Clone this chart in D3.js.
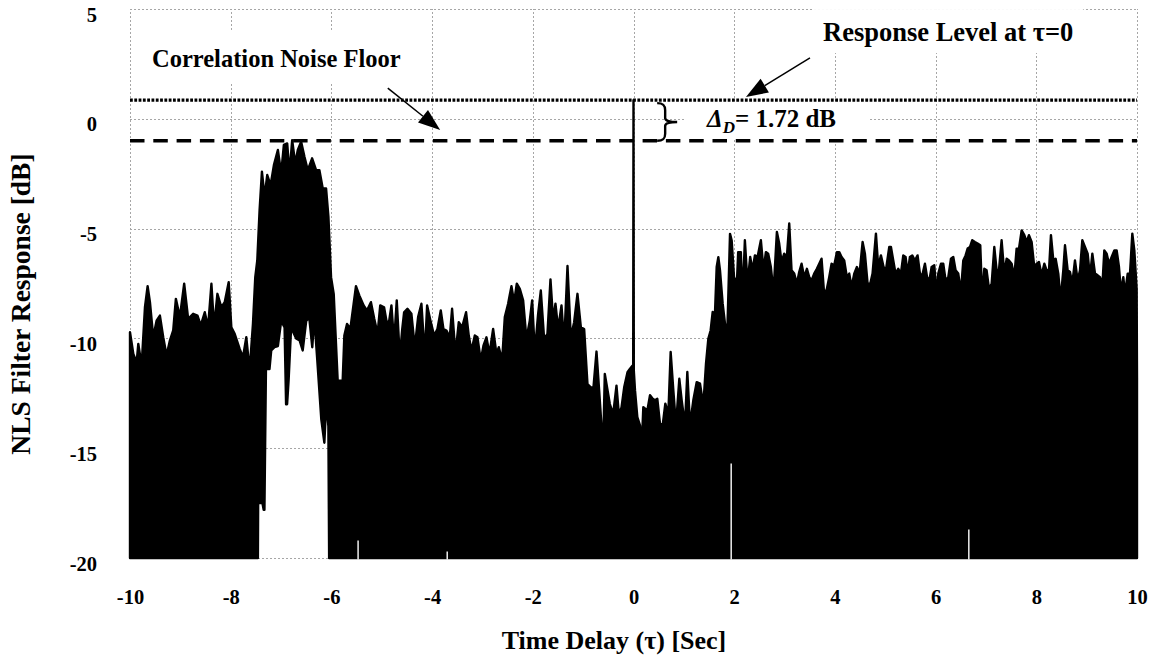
<!DOCTYPE html>
<html>
<head>
<meta charset="utf-8">
<script src="https://cdn.jsdelivr.net/npm/d3@7/dist/d3.min.js"></script>
<style>
  html, body { margin: 0; padding: 0; background: #fff; }
  svg { display: block; }
</style>
</head>
<body>
<script>
// ---------------- DATA ----------------
const xTicks = [-10, -8, -6, -4, -2, 0, 2, 4, 6, 8, 10];
const yTicks = [-20, -15, -10, -5, 0, 5];

const responseLevel = 0.85;   // dotted line, response at tau = 0 (dB)
const noiseFloor = -1.0;      // dashed line, correlation noise floor (dB)
const deltaLabel = "= 1.72 dB";

// Upper envelope of the filter response [time (s), dB]
const peaksA = [[-10.0,-9.72],[-9.934,-10.71],[-9.868,-11.09],[-9.835,-10.25],[-9.769,-11.24],[-9.703,-8.58],[-9.65,-7.62],[-9.604,-8.35],[-9.538,-9.95],[-9.472,-9.19],[-9.406,-8.96],[-9.34,-9.95],[-9.274,-10.78],[-9.208,-10.10],[-9.142,-9.64],[-9.089,-8.20],[-9.01,-9.03],[-8.924,-7.51],[-8.845,-9.11],[-8.746,-8.88],[-8.66,-8.96],[-8.594,-9.41],[-8.515,-8.81],[-8.449,-9.49],[-8.383,-7.51],[-8.33,-9.49],[-8.264,-7.97],[-8.185,-8.58],[-8.119,-8.35],[-8.04,-7.44],[-7.987,-9.49],[-7.921,-9.79],[-7.822,-10.48],[-7.756,-10.86],[-7.69,-9.95],[-7.624,-11.47],[-7.558,-9.34],[-7.512,-7.21],[-7.472,-6.45],[-7.426,-4.16],[-7.38,-2.41],[-7.327,-3.55],[-7.274,-2.56],[-7.208,-3.02],[-7.142,-2.11],[-7.063,-1.42],[-6.997,-2.49],[-6.944,-1.19],[-6.878,-1.12],[-6.832,-2.49],[-6.779,-0.97],[-6.719,-2.03],[-6.667,-1.42],[-6.601,-1.04],[-6.535,-1.73],[-6.469,-2.34],[-6.383,-1.80],[-6.304,-2.34],[-6.238,-2.34],[-6.172,-3.17],[-6.106,-3.17],[-6.059,-4.47],[-6.007,-7.21],[-5.954,-7.97],[-5.875,-11.93],[-5.776,-11.93],[-5.743,-9.87],[-5.69,-9.34],[-5.624,-9.57],[-5.558,-8.42],[-5.512,-7.62],[-5.446,-8.04],[-5.36,-8.50],[-5.294,-8.73],[-5.215,-8.35],[-5.149,-9.11],[-5.083,-9.79],[-5.03,-8.50]];

const peaksB = [[-4.954,-8.58],[-4.907,-9.19],[-4.861,-9.34],[-4.808,-8.50],[-4.755,-10.18],[-4.702,-8.27],[-4.642,-10.86],[-4.596,-9.64],[-4.556,-8.81],[-4.49,-8.65],[-4.411,-8.88],[-4.344,-10.40],[-4.278,-9.03],[-4.212,-8.42],[-4.146,-10.78],[-4.099,-8.50],[-4.026,-9.26],[-3.96,-9.87],[-3.894,-9.57],[-3.828,-8.73],[-3.775,-9.57],[-3.715,-9.64],[-3.649,-9.95],[-3.603,-8.65],[-3.536,-10.71],[-3.47,-9.26],[-3.404,-9.49],[-3.325,-8.81],[-3.272,-9.87],[-3.219,-10.56],[-3.152,-9.87],[-3.099,-9.95],[-3.033,-11.01],[-2.98,-10.33],[-2.921,-9.95],[-2.861,-10.71],[-2.788,-9.57],[-2.722,-10.71],[-2.675,-10.40],[-2.609,-11.01],[-2.556,-9.03],[-2.49,-8.42],[-2.424,-7.62],[-2.371,-8.35],[-2.318,-7.51],[-2.258,-7.74],[-2.192,-8.27],[-2.126,-10.02],[-2.06,-9.19],[-2.013,-8.27],[-1.96,-10.63],[-1.894,-8.88],[-1.841,-7.82],[-1.775,-10.02],[-1.709,-9.79],[-1.649,-7.31],[-1.596,-9.19],[-1.55,-8.42],[-1.497,-9.57],[-1.43,-8.50],[-1.377,-10.25],[-1.311,-6.70],[-1.245,-9.95],[-1.179,-9.26],[-1.113,-7.97],[-1.046,-9.49],[-0.98,-9.57],[-0.914,-12.08],[-0.848,-12.23],[-0.795,-12.23],[-0.735,-10.60],[-0.682,-12.38],[-0.636,-13.98],[-0.603,-15.0],[-0.57,-11.62],[-0.47,-12.99],[-0.404,-13.45],[-0.338,-12.15],[-0.291,-13.45],[-0.238,-13.14],[-0.185,-12.23],[-0.119,-11.54],[-0.073,-11.39],[-0.006,-11.2]];

const zeroLagPeak = [[0, 0.85]];

const peaksC = [[0.006,-11.45],[0.03,-12.37],[0.076,-13.58],[0.129,-13.96],[0.162,-15.02],[0.195,-13.13],[0.275,-13.28],[0.328,-12.59],[0.381,-12.75],[0.427,-12.82],[0.473,-12.75],[0.526,-13.88],[0.579,-13.96],[0.632,-12.97],[0.692,-13.43],[0.738,-10.62],[0.791,-12.37],[0.844,-13.96],[0.91,-11.84],[0.957,-12.82],[1.023,-13.96],[1.069,-11.53],[1.122,-13.96],[1.188,-12.82],[1.255,-11.99],[1.321,-12.06],[1.387,-13.05],[1.44,-11.15],[1.486,-10.02],[1.532,-9.64],[1.572,-8.80],[1.618,-8.88],[1.652,-6.75],[1.685,-6.30],[1.718,-6.90],[1.771,-8.42],[1.817,-9.33],[1.864,-9.64],[1.917,-5.24],[1.95,-5.54],[1.996,-7.2]];

const peaksD = [[2.053,-7.51],[2.079,-6.07],[2.132,-6.07],[2.166,-8.27],[2.212,-5.53],[2.265,-7.51],[2.318,-6.29],[2.364,-6.90],[2.411,-6.22],[2.464,-6.29],[2.53,-5.53],[2.583,-6.90],[2.629,-6.07],[2.675,-6.14],[2.728,-6.75],[2.781,-7.89],[2.848,-5.15],[2.894,-5.68],[2.94,-6.52],[2.993,-6.14],[3.046,-6.29],[3.093,-4.77],[3.139,-6.90],[3.192,-7.05],[3.245,-7.51],[3.291,-6.98],[3.338,-6.60],[3.391,-7.21],[3.444,-6.83],[3.49,-7.21],[3.536,-7.36],[3.589,-7.05],[3.642,-6.83],[3.689,-6.60],[3.735,-6.37],[3.788,-8.04],[3.841,-7.74],[3.887,-7.21],[3.934,-6.60],[3.987,-6.67],[4.04,-6.07],[4.086,-6.07],[4.132,-6.29],[4.185,-6.45],[4.238,-7.21],[4.285,-7.05],[4.331,-7.66],[4.384,-7.05],[4.437,-6.75],[4.49,-7.05],[4.55,-5.61],[4.596,-6.14],[4.649,-7.51],[4.702,-7.51],[4.748,-7.05],[4.815,-5.23],[4.861,-6.75],[4.914,-6.22],[4.967,-6.75],[5.013,-6.90],[5.079,-5.84]];

const peaksE = [[5.113,-5.84],[5.159,-6.45],[5.205,-7.05],[5.258,-6.83],[5.311,-7.05],[5.358,-6.22],[5.404,-6.29],[5.444,-7.05],[5.49,-6.29],[5.536,-6.22],[5.589,-6.45],[5.642,-6.22],[5.689,-7.05],[5.735,-7.13],[5.788,-6.60],[5.841,-7.36],[5.887,-7.21],[5.921,-6.75],[5.974,-6.67],[6.02,-8.04],[6.053,-7.05],[6.106,-6.60],[6.152,-6.60],[6.199,-7.36],[6.252,-7.21],[6.305,-6.37],[6.351,-6.29],[6.397,-6.90],[6.45,-7.05],[6.503,-7.89],[6.55,-6.45],[6.596,-6.22],[6.636,-5.91],[6.682,-5.84],[6.728,-5.53],[6.781,-5.61],[6.834,-5.68],[6.887,-5.76],[6.927,-8.27],[6.967,-6.83],[7.013,-6.90],[7.06,-7.74],[7.113,-7.51],[7.166,-5.84],[7.212,-6.90],[7.258,-6.90],[7.311,-5.53],[7.364,-7.05],[7.411,-6.37],[7.457,-6.45],[7.51,-6.60],[7.563,-7.21],[7.609,-5.91],[7.656,-5.91],[7.709,-5.08],[7.762,-5.30],[7.808,-5.61],[7.854,-5.30],[7.907,-5.61],[7.96,-6.75],[8.007,-6.60],[8.053,-6.52],[8.106,-7.13],[8.159,-6.60],[8.205,-6.90],[8.252,-6.90],[8.291,-5.30],[8.338,-6.45],[8.384,-6.37],[8.437,-7.05],[8.483,-8.27],[8.536,-6.90],[8.57,-5.76],[8.623,-6.90],[8.669,-6.98],[8.715,-7.51],[8.768,-6.45],[8.821,-7.36],[8.868,-6.90],[8.914,-5.53],[8.967,-5.84],[9.02,-6.14],[9.066,-7.21],[9.113,-6.14],[9.166,-7.05],[9.219,-7.13],[9.265,-7.21],[9.311,-7.66],[9.351,-5.99],[9.397,-6.14],[9.444,-6.60],[9.497,-6.29],[9.55,-5.99],[9.596,-5.99],[9.642,-6.75],[9.682,-7.89],[9.728,-7.21],[9.762,-7.97],[9.815,-7.05],[9.861,-7.05],[9.907,-5.23],[9.947,-5.99],[9.993,-7.74],[10.0,-11.8]];

// Lower envelope (troughs) [time (s), dB]; -20 dB is the clipping floor
const troughs = [[-10,-20],[-7.46,-20],[-7.455,-17.5],[-7.37,-17.5],[-7.345,-17.8],[-7.33,-17.8],[-7.3,-11.4],[-7.23,-11.4],[-7.195,-10.55],[-7.13,-10.4],[-7.063,-10.35],[-6.997,-9.2],[-6.93,-9.5],[-6.9,-13.0],[-6.88,-13.0],[-6.85,-11.9],[-6.8,-9.5],[-6.7,-10.0],[-6.63,-10.1],[-6.57,-10.55],[-6.5,-9.2],[-6.44,-9.05],[-6.38,-10.4],[-6.34,-9.05],[-6.28,-11.0],[-6.2,-13.7],[-6.14,-14.75],[-6.1,-12.85],[-6.06,-14.0],[-6.045,-20],[10,-20]];

// Isolated troughs that stay above the floor (narrow white slits)
const slitTimes = [-5.47, -3.7, 1.94, 6.66];
const slitTops  = [-19.2, -19.7, -15.7, -18.7];

// ---------------- DRAWING ----------------
const W = 1151, H = 659;
const FONT = "'Liberation Serif', 'Times New Roman', Times, serif";

const x = d3.scaleLinear().domain([-10, 10]).range([130, 1137]);
const y = d3.scaleLinear().domain([-20, 5]).range([558, 9]);

const svg = d3.select("body").append("svg")
  .attr("width", W).attr("height", H)
  .attr("font-family", FONT).attr("font-weight", "bold");

// grid
const grid = svg.append("g").attr("stroke", "#a6a6a6").attr("stroke-width", 1)
  .attr("stroke-dasharray", "2,2").attr("shape-rendering", "crispEdges");
grid.selectAll(".vg").data(xTicks).join("line")
  .attr("x1", d => Math.round(x(d)) + 0.5).attr("x2", d => Math.round(x(d)) + 0.5)
  .attr("y1", y(-20)).attr("y2", y(5));
grid.selectAll(".hg").data(yTicks).join("line")
  .attr("y1", d => Math.round(y(d)) + 0.5).attr("y2", d => Math.round(y(d)) + 0.5)
  .attr("x1", x(-10)).attr("x2", x(10));

// axes
svg.append("g").attr("transform", `translate(0,${y(-20)})`)
  .call(d3.axisBottom(x).tickValues(xTicks).tickFormat(d => String(d)).tickSize(0))
  .call(g => g.select(".domain").remove())
  .attr("font-family", FONT).attr("font-size", 20.5).attr("font-weight", "bold")
  .call(g => g.selectAll("text").attr("y", 46).attr("dy", null).attr("fill", "#000"));

svg.append("g").attr("transform", `translate(${x(-10)},0)`)
  .call(d3.axisLeft(y).tickValues(yTicks).tickFormat(d => String(d)).tickSize(0))
  .call(g => g.select(".domain").remove())
  .attr("font-family", FONT).attr("font-size", 20.5).attr("font-weight", "bold")
  .call(g => g.selectAll("text").attr("x", -33).attr("y", 12).attr("dy", null).attr("fill", "#000"));

// axis titles
svg.append("text").attr("x", 614).attr("y", 649).attr("text-anchor", "middle")
  .attr("font-size", 26).text("Time Delay (τ) [Sec]");
svg.append("text").attr("transform", "translate(30,304) rotate(-90)")
  .attr("text-anchor", "middle").attr("font-size", 27.5).text("NLS Filter Response [dB]");

// response signal: region between upper envelope and lower envelope
const topLine = [...peaksA, ...peaksB, ...zeroLagPeak, ...peaksC, ...peaksD, ...peaksE];
const polygon = topLine.concat(troughs.slice().reverse());
const line = d3.line().x(d => x(d[0])).y(d => y(d[1]));
svg.append("path").attr("d", line(polygon) + "Z")
  .attr("fill", "#000").attr("stroke", "#000")
  .attr("stroke-width", 2.4).attr("stroke-linejoin", "round");

svg.append("g").selectAll("line").data(slitTimes).join("line")
  .attr("x1", d => x(d)).attr("x2", d => x(d))
  .attr("y1", y(-20) + 1.5).attr("y2", (d, i) => y(slitTops[i]))
  .attr("stroke", "#fff").attr("stroke-width", 1.4);

// label background boxes layer
const boxLayer = svg.append("g");

// reference lines
svg.append("line").attr("x1", x(-10)).attr("x2", x(10))
  .attr("y1", y(responseLevel)).attr("y2", y(responseLevel))
  .attr("stroke", "#000").attr("stroke-width", 3.2).attr("stroke-dasharray", "2.8,1.5");
svg.append("line").attr("x1", x(-10)).attr("x2", x(10))
  .attr("y1", y(noiseFloor)).attr("y2", y(noiseFloor))
  .attr("stroke", "#000").attr("stroke-width", 3.5).attr("stroke-dasharray", "14.5,8.8");

// brace between the two levels
{
  const x0 = x(0.47), yT = y(responseLevel) + 3, yB = y(noiseFloor), ym = (yT + yB) / 2;
  const p = `M${x0},${yT} C${x0+6},${yT} ${x0+8},${yT+2} ${x0+8},${yT+7} L${x0+8},${ym-4} ` +
            `C${x0+8},${ym-1} ${x0+12},${ym} ${x0+20},${ym} C${x0+12},${ym} ${x0+8},${ym+1} ${x0+8},${ym+4} ` +
            `L${x0+8},${yB-7} C${x0+8},${yB-2} ${x0+6},${yB} ${x0},${yB}`;
  svg.append("path").attr("d", p).attr("fill", "none").attr("stroke", "#000").attr("stroke-width", 2.4);
}

// annotation texts
function boxed(sel, pad) {
  const b = sel.node().getBBox();
  boxLayer.append("rect").attr("x", b.x - pad[0]).attr("y", b.y - pad[2])
    .attr("width", b.width + pad[0] + pad[1]).attr("height", b.height + pad[2] + pad[3])
    .attr("fill", "#fff");
}

const t1 = svg.append("text").attr("x", x(-9.563)).attr("y", y(2.36))
  .attr("font-size", 24.5).text("Correlation Noise Floor");
boxed(t1, [12, 10, 15, 11]);

const t2 = svg.append("text").attr("x", x(3.764)).attr("y", y(3.54))
  .attr("font-size", 26.5).text("Response Level at τ=0");
boxed(t2, [10, 10, 8, 6]);

const t3 = svg.append("text").attr("x", x(1.46)).attr("y", y(-0.37)).attr("font-size", 25);
t3.append("tspan").attr("font-style", "italic").text("Δ");
t3.append("tspan").attr("font-style", "italic").attr("font-size", 17).attr("dy", 6).text("D");
t3.append("tspan").attr("dy", -6).text(deltaLabel);
boxed(t3, [20, 33, 4, 2]);

// arrows
function arrow(from, to) {
  const x1 = x(from[0]), y1 = y(from[1]), x2 = x(to[0]), y2 = y(to[1]);
  const dx = x2 - x1, dy = y2 - y1, L = Math.hypot(dx, dy);
  const ux = dx / L, uy = dy / L, head = 22, half = 8;
  const bx = x2 - ux * head, by = y2 - uy * head;
  svg.append("line").attr("x1", x1).attr("y1", y1).attr("x2", bx).attr("y2", by)
    .attr("stroke", "#000").attr("stroke-width", 1.5);
  svg.append("path")
    .attr("d", `M${x2},${y2} L${bx - uy * half},${by + ux * half} L${bx + uy * half},${by - ux * half} Z`)
    .attr("fill", "#000");
}
arrow([-4.88, 1.40], [-3.84, -0.51]);
arrow([3.505, 2.77], [2.234, 0.99]);
</script>
</body>
</html>
